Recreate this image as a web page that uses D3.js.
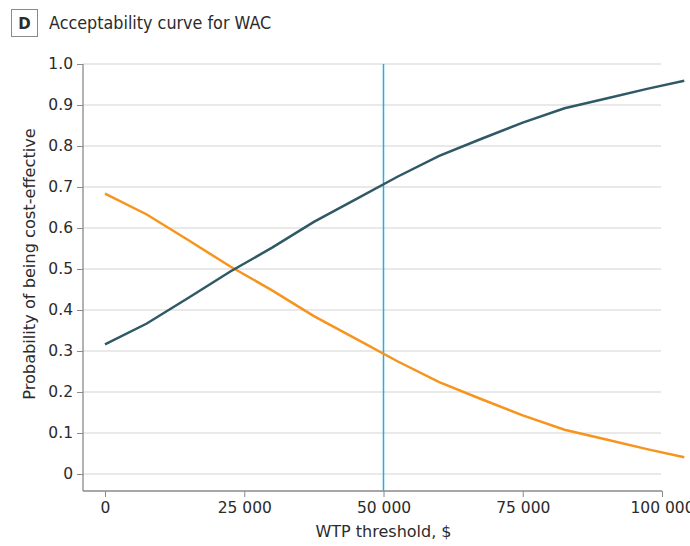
<!DOCTYPE html>
<html>
<head>
<meta charset="utf-8">
<script src="https://cdn.jsdelivr.net/npm/d3@7"></script>
<style>
  body { margin: 0; background: #fff; }
  svg text { font-family: "DejaVu Sans", sans-serif; fill: #2b2b2b; }
</style>
</head>
<body>
<svg id="canvas" width="690" height="546"></svg>
<script>
// WTP thresholds, $ (points every 7500)
const wtp = [0, 7500, 15000, 22500, 30000, 37500, 45000, 52500, 60000, 67500, 75000, 82500, 90000, 97500, 104000];
// probability of being cost-effective
const wacValues = [0.316, 0.367, 0.430, 0.494, 0.552, 0.615, 0.670, 0.725, 0.776, 0.817, 0.857, 0.892, 0.916, 0.940, 0.959];
const otherValues = [0.684, 0.633, 0.570, 0.506, 0.448, 0.385, 0.330, 0.275, 0.224, 0.183, 0.143, 0.108, 0.084, 0.060, 0.041];
const yTicks = [0, 0.1, 0.2, 0.3, 0.4, 0.5, 0.6, 0.7, 0.8, 0.9, 1.0];
const xTicks = [0, 25000, 50000, 75000, 100000];
const threshold = 50000;

let canvas = d3.select('#canvas');

let x = d3.scaleLinear().domain([0, 100000]).range([105, 662]);
let y = d3.scaleLinear().domain([0, 1]).range([474, 64]);

const axisLeft = 83, axisBottom = 491;

// title with the panel letter box
canvas.append('rect')
    .attr('x', 11.5).attr('y', 9.5).attr('width', 26).attr('height', 27)
    .attr('fill', '#fff').attr('stroke', '#8a8a8a').attr('stroke-width', 1);
canvas.append('text')
    .attr('x', 24.5).attr('y', 28.5)
    .attr('text-anchor', 'middle')
    .style('font-weight', 'bold').style('font-size', '15px')
    .text('D');
canvas.append('text')
    .attr('x', 49).attr('y', 29)
    .style('font-family', '"DejaVu Sans Condensed", "DejaVu Sans", sans-serif')
    .style('font-size', '17.8px')
    .text('Acceptability curve for WAC');

// grid lines
canvas.selectAll('line.grid')
    .data(yTicks)
    .enter()
    .append('line')
    .attr('class', 'grid')
    .attr('x1', axisLeft).attr('x2', 661)
    .attr('y1', d => y(d)).attr('y2', d => y(d))
    .attr('stroke', '#e2e2e2').attr('stroke-width', 1.3);

// y axis
let yAxis = d3.axisLeft(y)
    .tickValues(yTicks)
    .tickSize(6)
    .tickPadding(4)
    .tickFormat(d => d === 0 ? '0' : d3.format('.1f')(d));
let gy = canvas.append('g')
    .attr('transform', `translate(${axisLeft},0)`)
    .call(yAxis);
gy.select('.domain').remove();
gy.append('line')
    .attr('x1', 0).attr('x2', 0).attr('y1', 64).attr('y2', axisBottom)
    .attr('stroke', '#8a8a8a').attr('stroke-width', 1.3);
gy.selectAll('.tick line').attr('stroke', '#8a8a8a');
gy.selectAll('.tick text').style('font-size', '15.5px').attr('fill', '#2b2b2b');

// x axis
let xAxis = d3.axisBottom(x)
    .tickValues(xTicks)
    .tickSize(6)
    .tickPadding(5)
    .tickFormat(d => d3.format(',')(d).replace(/,/g, ' '));
let gx = canvas.append('g')
    .attr('transform', `translate(0,${axisBottom})`)
    .call(xAxis);
gx.select('.domain').remove();
gx.append('line')
    .attr('x1', axisLeft).attr('x2', 662).attr('y1', 0).attr('y2', 0)
    .attr('stroke', '#8a8a8a').attr('stroke-width', 1.3);
gx.selectAll('.tick line').attr('stroke', '#8a8a8a');
gx.selectAll('.tick text').style('font-size', '15.5px').attr('fill', '#2b2b2b');

// axis titles
canvas.append('text')
    .attr('x', (x(0) + x(100000)) / 2).attr('y', 537)
    .attr('text-anchor', 'middle')
    .style('font-size', '16px')
    .text('WTP threshold, $');
canvas.append('text')
    .attr('transform', `translate(35,${(y(0) + y(1)) / 2 - 5}) rotate(-90)`)
    .attr('text-anchor', 'middle')
    .style('font-size', '16.2px')
    .text('Probability of being cost-effective');

// 50 000 threshold line
canvas.append('line')
    .attr('x1', x(threshold)).attr('x2', x(threshold))
    .attr('y1', 64).attr('y2', axisBottom)
    .attr('stroke', '#2aabe0').attr('stroke-width', 1.5);

// curves
let line = d3.line()
    .x(d => x(d[0]))
    .y(d => y(d[1]));

canvas.append('path')
    .datum(d3.zip(wtp, otherValues))
    .attr('d', line)
    .attr('fill', 'none')
    .attr('stroke', '#f7941d')
    .attr('stroke-width', 2.5);

canvas.append('path')
    .datum(d3.zip(wtp, wacValues))
    .attr('d', line)
    .attr('fill', 'none')
    .attr('stroke', '#2f5966')
    .attr('stroke-width', 2.5);
</script>
</body>
</html>
